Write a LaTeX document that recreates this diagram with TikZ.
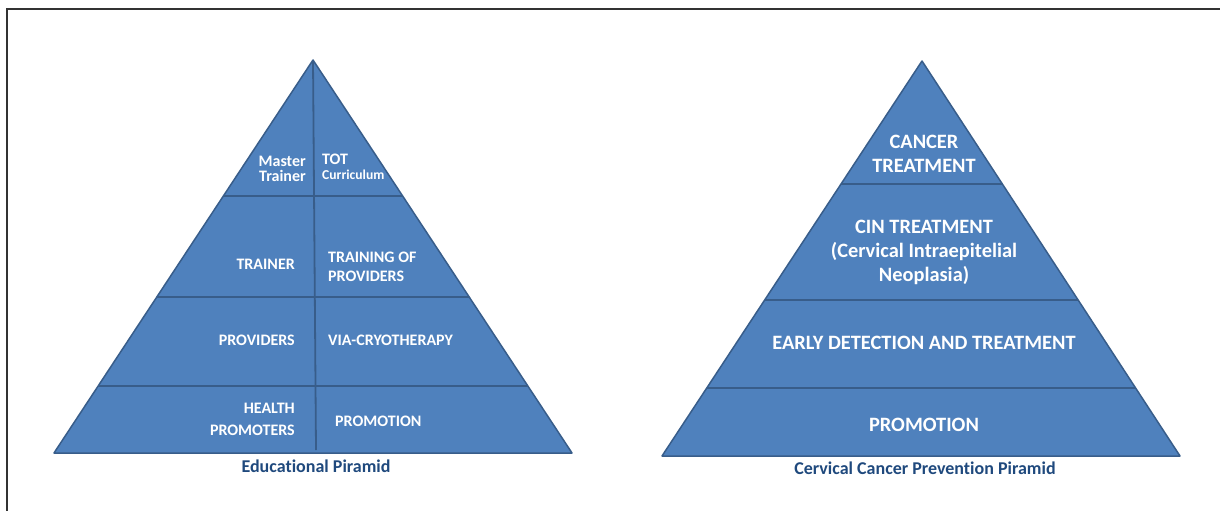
\documentclass[tikz,border=0pt]{standalone}
\usepackage{fontspec}
\setmainfont{Carlito}[Ligatures=NoCommon]
\usetikzlibrary{calc}
\definecolor{pyrfill}{HTML}{4F81BD}
\definecolor{pyredge}{HTML}{385D8A}
\definecolor{captcol}{HTML}{1F497D}

\begin{document}
\begin{tikzpicture}[x=1pt,y=-1pt,
  pyr/.style={fill=pyrfill,draw=pyredge,line width=1.5pt,line join=round},
  tierline/.style={draw=pyredge,line width=1.8pt},
  lefttxt/.style={text=white,inner sep=0pt,font=\bfseries\fontsize{16}{22}\selectfont},
  righttxt/.style={text=white,inner sep=0pt,align=center,font=\bfseries\fontsize{20.4}{24}\selectfont},
  capt/.style={text=captcol,inner sep=0pt,font=\bfseries\fontsize{18}{20}\selectfont}]
\useasboundingbox (0,0) rectangle (1220,511);
\draw[line width=1.5pt,color=black!80] (7,511) -- (7,9) -- (1220,9);

% Educational pyramid
\coordinate[] (A) at (313,60);
\coordinate[] (L) at (54,453);
\coordinate[] (R) at (572,453);
\coordinate[] (V) at (316,450);
\draw[pyr] (A) -- (R) -- (L) -- cycle;
\foreach \t in {0.346,0.603,0.830}
  \draw[tierline] ($(A)!\t!(L)$) -- ($(A)!\t!(R)$);
\draw[tierline] (A) -- (V);

\node[lefttxt,anchor=east,align=right] (master) at (306,169) {Master\\[-7pt]Trainer};
\node[lefttxt,anchor=west,align=left] (tot) at (322,167) {TOT\\[-7pt]{\fontsize{13.6}{15}\selectfont Curriculum}};
\node[lefttxt,anchor=east] (trainer) at (295,264) {TRAINER};
\node[lefttxt,anchor=west,align=left] (training) at (328,267) {TRAINING OF\\[-3pt]PROVIDERS};
\node[lefttxt,anchor=east] (providers) at (295,340) {PROVIDERS};
\node[lefttxt,anchor=west] (via) at (328,340) {VIA-CRYOTHERAPY};
\node[lefttxt,anchor=east,align=right] (health) at (295,419) {HEALTH\\PROMOTERS};
\node[lefttxt,anchor=west] (promoL) at (335,421) {PROMOTION};
\node[capt] (captL) at (316,466) {Educational Piramid};

% Cervical cancer prevention pyramid
\coordinate[] (B) at (922,61);
\coordinate[] (BL) at (662,456);
\coordinate[] (BR) at (1180,456);
\draw[pyr] (B) -- (BR) -- (BL) -- cycle;
\foreach \t in {0.311,0.605,0.828}
  \draw[tierline] ($(B)!\t!(BL)$) -- ($(B)!\t!(BR)$);

\node[righttxt] (cancer) at (924,154) {CANCER\\TREATMENT};
\node[righttxt] (cin) at (924,252) {CIN TREATMENT\\(Cervical Intraepitelial\\Neoplasia)};
\node[righttxt] (early) at (924,343) {EARLY DETECTION AND TREATMENT};
\node[righttxt] (promoR) at (924,425) {PROMOTION};
\node[capt] (captR) at (925,468) {Cervical Cancer Prevention Piramid};
\end{tikzpicture}
\end{document}
